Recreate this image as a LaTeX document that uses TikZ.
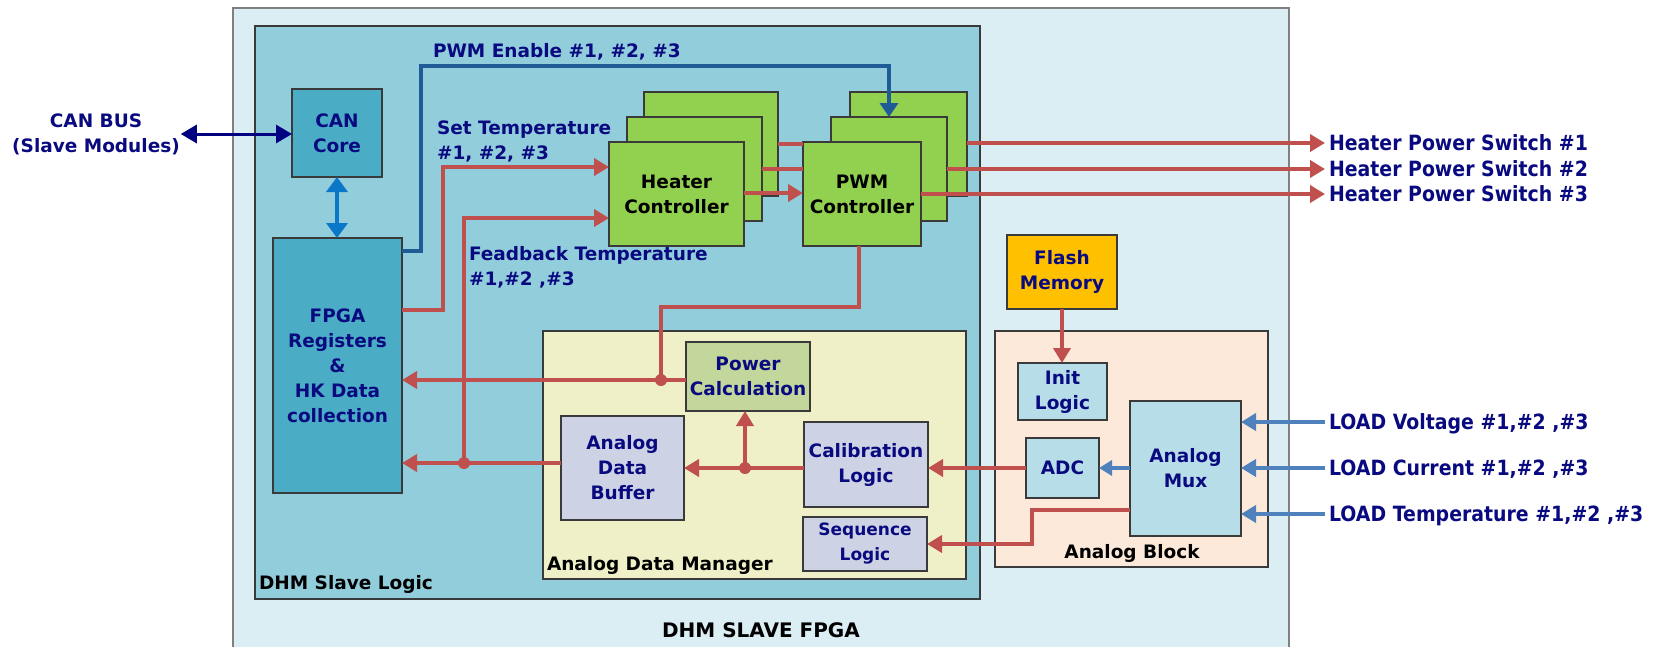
\documentclass[tikz,border=0pt]{standalone}
\usepackage{fontspec}
\setmainfont{DejaVu Sans}
\newfontfamily\narrowfont[FakeStretch=0.9]{DejaVu Sans}
\usetikzlibrary{arrows.meta}

\definecolor{navytxt}{HTML}{0A0A80}
\definecolor{outerfill}{HTML}{DAEEF3}
\definecolor{outerline}{HTML}{808080}
\definecolor{logicfill}{HTML}{92CDDC}
\definecolor{boxline}{HTML}{3A3A3A}
\definecolor{tealfill}{HTML}{4BACC6}
\definecolor{greenfill}{HTML}{92D050}
\definecolor{admfill}{HTML}{EFF0C8}
\definecolor{pcfill}{HTML}{C3D69B}
\definecolor{lavfill}{HTML}{CDD3E4}
\definecolor{abfill}{HTML}{FDE9D9}
\definecolor{cyanfill}{HTML}{B7DEE8}
\definecolor{flashfill}{HTML}{FFC000}
\definecolor{redc}{HTML}{C0504D}
\definecolor{bluein}{HTML}{4F81BD}
\definecolor{canlinkc}{HTML}{0B77C9}
\definecolor{canbusc}{HTML}{000080}
\definecolor{pwmenc}{HTML}{1F5B97}

% place a rectangular block by its corner coordinates (x1,y1)-(x2,y2)
\newcommand\placebox[7]{%
  \node[#2, minimum width={#5pt-#3pt}, minimum height={#6pt-#4pt}]
    (#1) at ({(#3+#5)/2},{(#4+#6)/2}) {#7};}

\tikzset{
  x=1pt, y=-1pt,
  every node/.style={font=\bfseries\fontsize{18.5}{25}\selectfont,
    inner sep=0pt, outer sep=0pt},
  blockbase/.style={draw=boxline, line width=1.5pt, align=center, text=navytxt},
  framebox/.style={fill=outerfill, draw=outerline, line width=1.5pt},
  logicbox/.style={fill=logicfill, draw=boxline, line width=2pt},
  admbox/.style={fill=admfill, draw=boxline, line width=1.5pt},
  abbox/.style={fill=abfill, draw=boxline, line width=1.5pt},
  tealbox/.style={blockbase, fill=tealfill},
  greenbox/.style={blockbase, fill=greenfill, text=black},
  pcbox/.style={blockbase, fill=pcfill},
  lavbox/.style={blockbase, fill=lavfill},
  cyanbox/.style={blockbase, fill=cyanfill},
  flashbox/.style={blockbase, fill=flashfill},
  sigtext/.style={text=navytxt, align=left},
  captext/.style={text=black},
  sidetext/.style={text=navytxt, inner xsep=4pt,
    font=\narrowfont\bfseries\fontsize{21}{25}\selectfont,
    text height=15pt, text depth=0pt},
  tip/.style={-{Triangle[length=15pt,width=17pt]}},
  redline/.style={draw=redc, line width=4pt},
  redarrow/.style={redline, tip},
  bluearrow/.style={draw=bluein, line width=4pt, tip},
  smallblue/.style={draw=bluein, line width=4pt, -{Triangle[length=13pt,width=15pt]}},
  canbusarrow/.style={draw=canbusc, line width=3pt,
    {Triangle[length=16pt,width=18pt]}-{Triangle[length=16pt,width=18pt]}},
  canlinkarrow/.style={draw=canlinkc, line width=3.5pt,
    {Triangle[length=15pt,width=21pt]}-{Triangle[length=15pt,width=21pt]}},
  pwmenarrow/.style={draw=pwmenc, line width=4pt,
    -{Triangle[length=14pt,width=18pt]}},
  joint/.style={fill=redc}
}

\begin{document}
\begin{tikzpicture}
\useasboundingbox[fill=white] (0,0) rectangle (1663,646);

% containers
\placebox{fpgaframe}{framebox}{233}{8}{1289}{668}{}
\placebox{slavelogic}{logicbox}{255}{26}{980}{599}{}
\placebox{adm}{admbox}{543}{331}{966}{579}{}
\placebox{ablock}{abbox}{995}{331}{1268}{567}{}

% logic blocks
\placebox{can}{tealbox}{292}{89}{382}{177}{CAN\\Core}
\placebox{fpga}{tealbox}{273}{238}{402}{493}{FPGA\\Registers\\\&\\HK Data\\collection}

\placebox{heatB}{greenbox}{644}{92}{778}{196}{}
\placebox{heatM}{greenbox}{627}{117}{762}{221}{}
\placebox{heatF}{greenbox}{609}{142}{744}{246}{Heater\\Controller}
\placebox{pwmB}{greenbox}{850}{92}{967}{196}{}
\placebox{pwmM}{greenbox}{831}{117}{947}{221}{}
\placebox{pwmF}{greenbox}{803}{142}{921}{246}{PWM\\Controller}

\placebox{flash}{flashbox}{1007}{235}{1117}{309}{Flash\\Memory}

\placebox{pc}{pcbox}{686}{342}{810}{411}{Power\\Calculation}
\placebox{adb}{lavbox}{561}{416}{684}{520}{Analog\\Data\\Buffer}
\placebox{cal}{lavbox}{804}{422}{928}{507}{Calibration\\Logic}
\placebox{seq}{lavbox,font=\bfseries\fontsize{17}{25}\selectfont}{803}{517}{927}{571}{Sequence\\Logic}

\placebox{init}{cyanbox}{1018}{363}{1107}{420}{Init\\Logic}
\placebox{adc}{cyanbox}{1026}{438}{1099}{498}{ADC}
\placebox{mux}{cyanbox}{1130}{401}{1241}{536}{Analog\\Mux}

% captions
\node[captext, anchor=west] (cap1) at (259,584) {DHM Slave Logic};
\node[captext, anchor=west] (cap2) at (547,565) {Analog Data Manager};
\node[captext] (cap3) at (1132,553) {Analog Block};
\node[captext, font=\bfseries\fontsize{20}{25}\selectfont] (cap4) at (761,630) {DHM SLAVE FPGA};

% signal labels
\node[sigtext, align=center] (canbus) at (96,134) {CAN BUS\\(Slave Modules)};
\node[sigtext, anchor=west] (pwmen) at (433,52) {PWM Enable \#1, \#2, \#3};
\node[sigtext, anchor=west] (settemp) at (437,141) {Set Temperature\\\#1, \#2, \#3};
\node[sigtext, anchor=west] (fbtemp) at (469,267) {Feadback Temperature\\\#1,\#2 ,\#3};

\node[sidetext, anchor=west] (hp1) at (1325,143) {Heater Power Switch \#1};
\node[sidetext, anchor=west] (hp2) at (1325,169) {Heater Power Switch \#2};
\node[sidetext, anchor=west] (hp3) at (1325,194) {Heater Power Switch \#3};
\node[sidetext, anchor=west] (lv) at (1325,422) {LOAD Voltage \#1,\#2 ,\#3};
\node[sidetext, anchor=west] (lc) at (1325,468) {LOAD Current \#1,\#2 ,\#3};
\node[sidetext, anchor=west] (lt) at (1325,514) {LOAD Temperature \#1,\#2 ,\#3};

% junction points
\coordinate (jpc) at (661,380);
\coordinate (jfb) at (464,463);
\coordinate (jcal) at (745,468);

% CAN side
\draw[canbusarrow] ([xshift=1pt]canbus.east) -- (can.west |- canbus.east);
\draw[canlinkarrow] (can.south) -- (can.south |- fpga.north);

% PWM enable
\draw[pwmenarrow] (fpga.east |- 0,251) -- ++(19,0) |- (pwmM.north |- 0,66) -- (pwmM.north);

% temperatures into the heater controller
\draw[redarrow] (fpga.east |- 0,310) -- ++(41,0) |- (heatF.west |- 0,167);
\draw[redarrow] (jfb) |- (heatF.west |- 0,218);

% heater controller to PWM controller
\draw[redline] (heatB.east |- 0,144) -- (pwmF.west |- 0,144);
\draw[redline] (heatM.east |- 0,169) -- (pwmF.west |- 0,169);
\draw[redarrow] (heatF.east |- 0,193) -- (pwmF.west |- 0,193);

% PWM outputs
\draw[redarrow] (pwmB.east |- hp1.west) -- (hp1.west);
\draw[redarrow] (pwmM.east |- hp2.west) -- (hp2.west);
\draw[redarrow] (pwmF.east |- hp3.west) -- (hp3.west);

% PWM state back to the power calculation path
\draw[redline] ([xshift=-3pt]pwmF.south) -- ++(0,61) -| (jpc);

% data into the FPGA registers
\draw[redarrow] (pc.west |- jpc) -- (fpga.east |- jpc);
\draw[redarrow] (adb.west |- jfb) -- (fpga.east |- jfb);

% analog data manager internals
\draw[redarrow] (cal.west |- jcal) -- (adb.east |- jcal);
\draw[redarrow] (jcal) -- (jcal |- pc.south);

% analog block outputs
\draw[redarrow] (adc.west) -- (cal.east |- adc.west);
\draw[redarrow] (mux.west |- 0,510) -- ++(-98,0) |- (seq.east);
\draw[redarrow] (flash.south) -- (flash.south |- init.north);
\draw[smallblue] (mux.west |- adc.west) -- (adc.east);

% load inputs
\draw[bluearrow] (lv.west) -- (mux.east |- lv.west);
\draw[bluearrow] (lc.west) -- (mux.east |- lc.west);
\draw[bluearrow] (lt.west) -- (mux.east |- lt.west);

% junction dots
\fill[joint] (jpc) circle (6);
\fill[joint] (jfb) circle (6);
\fill[joint] (jcal) circle (6);
\end{tikzpicture}
\end{document}
